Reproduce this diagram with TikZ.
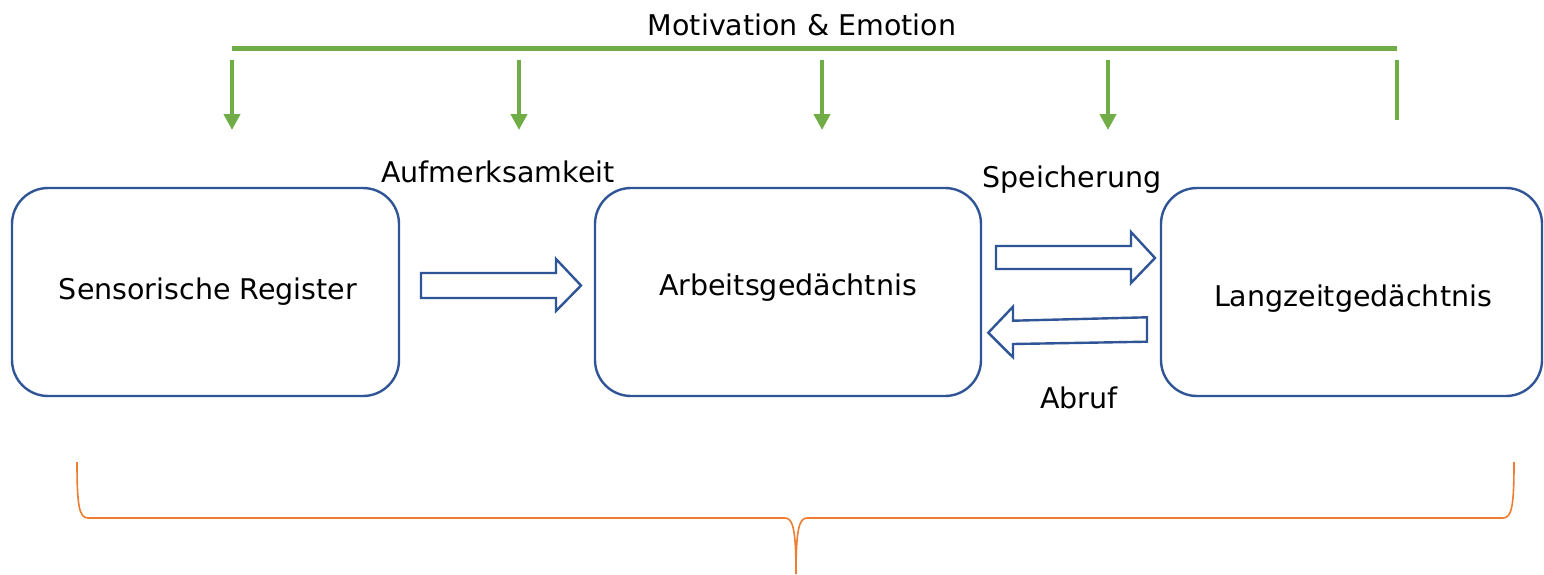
\documentclass[tikz,border=0pt]{standalone}
\usepackage{fontspec}
\setmainfont{DejaVu Sans}
\usetikzlibrary{arrows.meta}
\definecolor{boxblue}{HTML}{2F5597}
\definecolor{leafgreen}{HTML}{70AD47}
\definecolor{bracket}{HTML}{ED7D31}
\begin{document}
\begin{tikzpicture}[x=1pt,y=-1pt,
  store/.style={draw=boxblue,line width=2.4pt,rounded corners=36pt,
    minimum width=#1,minimum height=208pt,inner sep=0pt},
  caption/.style={anchor=base,inner sep=0pt,
    font=\fontsize{28.5}{34}\selectfont},
  blockarrow/.style={draw=boxblue,line width=2.4pt,fill=white,line join=miter},
  influence/.style={draw=leafgreen,line width=4pt,
    -{Triangle[length=16pt,width=16pt]}},
  brace/.style={draw=bracket,line width=1.6pt}]
\useasboundingbox (0,0) rectangle (1544,574);

% memory stores
\node[store=387pt] (sr) at (205.5,292) {};
\node[store=386pt] (ag) at (788,292) {};
\node[store=381pt] (lz) at (1351.5,292) {};

\node[caption] (srt) at (208,299) {Sensorische Register};
\node[caption] (agt) at (788,295) {Arbeitsgedächtnis};
\node[caption] (lzt) at (1353,306) {Langzeitgedächtnis};

% process labels
\node[caption] (att) at (498,182) {Aufmerksamkeit};
\node[caption] (spe) at (1072,187) {Speicherung};
\node[caption] (abr) at (1079,408) {Abruf};
\node[caption] (mot) at (802,35) {Motivation \& Emotion};

% block arrows between the stores
\draw[blockarrow] (421,273) -- (556,273) -- (556,259) -- (581,285.5)
  -- (556,311) -- (556,298) -- (421,298) -- cycle;
\draw[blockarrow] (996,246) -- (1131,246) -- (1131,232) -- (1155,258)
  -- (1131,283) -- (1131,269) -- (996,269) -- cycle;
\draw[blockarrow] (1147,317.3) -- (1013,320.7) -- (1013,306.7) -- (988.3,332.7)
  -- (1013,357.3) -- (1013,344) -- (1147,341.7) -- cycle;

% motivation and emotion bar
\coordinate (barL) at (232,48);
\coordinate (barR) at (1397,48);
\draw[draw=leafgreen,line width=5pt] (barL) -- (barR);
\foreach \px/\nm in {232/a,519/b,822/c,1108/d}{
  \coordinate (s\nm) at (\px,60);
  \coordinate (e\nm) at (\px,130);
  \draw[influence] (s\nm) -- (e\nm);
}
\coordinate (se) at (1397,60);
\coordinate (ee) at (1397,120);
\draw[draw=leafgreen,line width=4pt] (se) -- (ee);

% brace under the stores
\coordinate (bl) at (77,462);
\coordinate (bm) at (796,574);
\coordinate (br) at (1514,462);
\draw[brace] (bl) .. controls (77,505) and (79,518) .. (88,518)
  -- (785,518) .. controls (793,518) and (796,530) .. (bm);
\draw[brace] (br) .. controls (1514,505) and (1512,518) .. (1503,518)
  -- (807,518) .. controls (799,518) and (796,530) .. (bm);
\end{tikzpicture}
\end{document}
